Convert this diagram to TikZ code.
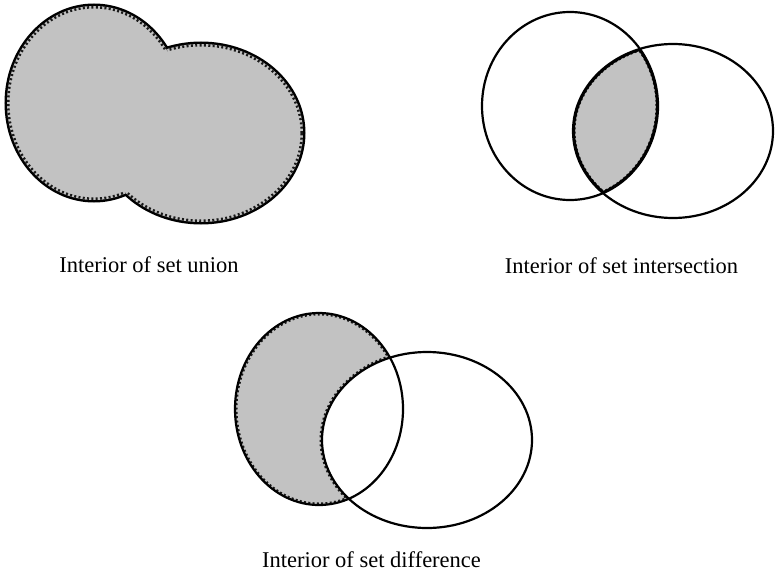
\documentclass[tikz,border=0pt]{standalone}
\usepackage{fontspec}
\setmainfont{Liberation Serif}
\tikzset{
  setline/.style ={draw=black, line width=2.2pt},
  setfill/.style ={fill=black!24},
  setdots/.style ={draw=black!90, line width=5pt, dash pattern=on 2pt off 2.4pt},
  setlabel/.style={font=\fontsize{22.5}{24}\selectfont, inner sep=0pt, anchor=base},
}

\begin{document}
\begin{tikzpicture}[x=1pt, y=-1pt]
  \useasboundingbox (0,0) rectangle (775,578);

  % union
  \draw[line width=5pt] (94,103) ellipse [x radius=87pt, y radius=97pt]
                        (201,133) ellipse [x radius=102pt, y radius=89pt];
  \fill[setfill] (94,103) ellipse [x radius=87pt, y radius=97pt]
                 (201,133) ellipse [x radius=102pt, y radius=89pt];
  \begin{scope}[even odd rule]
    \clip (0,0) rectangle (775,578) (201,133) ellipse [x radius=102pt, y radius=89pt];
    \clip (94,103) ellipse [x radius=87pt, y radius=97pt];
    \draw[setdots] (94,103) ellipse [x radius=87pt, y radius=97pt];
  \end{scope}
  \begin{scope}[even odd rule]
    \clip (0,0) rectangle (775,578) (94,103) ellipse [x radius=87pt, y radius=97pt];
    \clip (201,133) ellipse [x radius=102pt, y radius=89pt];
    \draw[setdots] (201,133) ellipse [x radius=102pt, y radius=89pt];
  \end{scope}
  \node[setlabel] (unionlabel) at (149,272) {Interior of set union};

  % intersection
  \begin{scope}
    \clip (570,106) ellipse [x radius=88pt, y radius=94pt];
    \clip (673,131) ellipse [x radius=100pt, y radius=87pt];
    \fill[setfill] (570,106) ellipse [x radius=88pt, y radius=94pt];
    \draw[setdots] (570,106) ellipse [x radius=88pt, y radius=94pt]
                   (673,131) ellipse [x radius=100pt, y radius=87pt];
    \draw[line width=4pt] (570,106) ellipse [x radius=88pt, y radius=94pt]
                          (673,131) ellipse [x radius=100pt, y radius=87pt];
  \end{scope}
  \draw[setline] (570,106) ellipse [x radius=88pt, y radius=94pt];
  \draw[setline] (673,131) ellipse [x radius=100pt, y radius=87pt];
  \node[setlabel] (meetlabel) at (621.5,273) {Interior of set intersection};

  % difference
  \begin{scope}[even odd rule]
    \clip (319,409) ellipse [x radius=84pt, y radius=96pt];
    \clip (0,0) rectangle (775,578) (427,440) ellipse [x radius=105pt, y radius=88pt];
    \fill[setfill] (319,409) ellipse [x radius=84pt, y radius=96pt];
    \draw[setdots] (319,409) ellipse [x radius=84pt, y radius=96pt]
                   (427,440) ellipse [x radius=105pt, y radius=88pt];
  \end{scope}
  \draw[setline] (319,409) ellipse [x radius=84pt, y radius=96pt];
  \draw[setline] (427,440) ellipse [x radius=105pt, y radius=88pt];
  \node[setlabel] (difflabel) at (371.5,567) {Interior of set difference};
\end{tikzpicture}
\end{document}
